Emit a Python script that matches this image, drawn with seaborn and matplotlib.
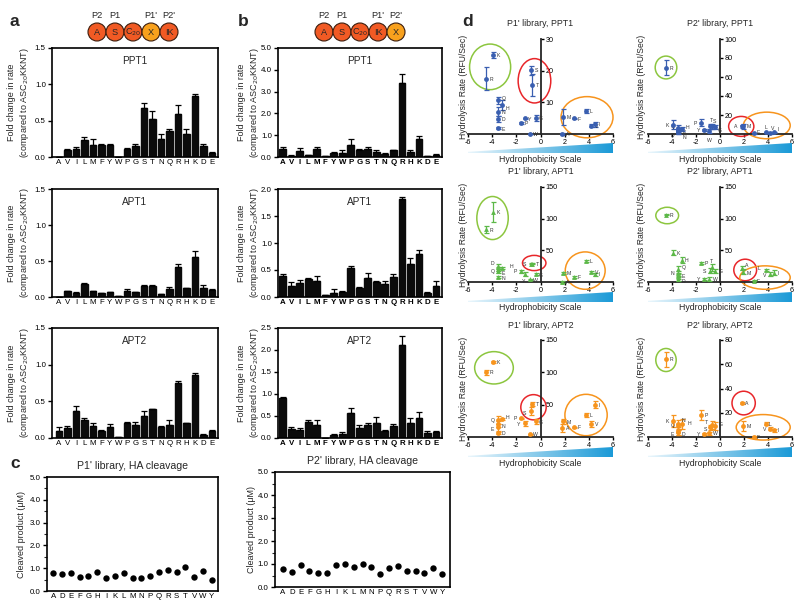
import numpy as np
import pandas as pd
import matplotlib
matplotlib.use("Agg")
import matplotlib.pyplot as plt
import seaborn as sns
from matplotlib.patches import Ellipse, Circle, Polygon
from matplotlib.colors import LinearSegmentedColormap

sns.set_theme(style="ticks")
plt.rcParams['font.family'] = ['Liberation Sans', 'DejaVu Sans']

# ---------------- data ----------------
residues_ab = ['A', 'V', 'I', 'L', 'M', 'F', 'Y', 'W', 'P', 'G', 'S', 'T', 'N', 'Q', 'R', 'H', 'K', 'D', 'E']

a_ppt1 = [0.0, 0.09, 0.11, 0.24, 0.17, 0.16, 0.16, 0.005, 0.11, 0.15, 0.67, 0.52, 0.25, 0.36, 0.59, 0.32, 0.84, 0.15, 0.06]
a_ppt1_err = [0.0, 0.02, 0.03, 0.03, 0.08, 0.02, 0.02, 0.0, 0.01, 0.03, 0.07, 0.11, 0.06, 0.02, 0.12, 0.07, 0.03, 0.03, 0.01]
a_apt1 = [0.0, 0.08, 0.06, 0.18, 0.08, 0.05, 0.07, 0.01, 0.09, 0.07, 0.15, 0.15, 0.04, 0.11, 0.42, 0.12, 0.56, 0.13, 0.10]
a_apt1_err = [0.0, 0.01, 0.01, 0.01, 0.01, 0.0, 0.0, 0.0, 0.02, 0.0, 0.01, 0.01, 0.0, 0.03, 0.04, 0.01, 0.08, 0.03, 0.01]
a_apt2 = [0.09, 0.13, 0.37, 0.24, 0.17, 0.10, 0.15, 0.01, 0.21, 0.18, 0.30, 0.39, 0.15, 0.18, 0.75, 0.20, 0.86, 0.04, 0.10]
a_apt2_err = [0.06, 0.04, 0.06, 0.03, 0.04, 0.01, 0.04, 0.0, 0.01, 0.04, 0.07, 0.01, 0.01, 0.07, 0.03, 0.01, 0.02, 0.01, 0.01]

b_ppt1 = [0.35, 0.05, 0.28, 0.08, 0.35, 0.05, 0.20, 0.17, 0.57, 0.32, 0.35, 0.25, 0.13, 0.30, 3.38, 0.22, 0.84, 0.05, 0.10]
b_ppt1_err = [0.12, 0.02, 0.15, 0.02, 0.10, 0.01, 0.03, 0.15, 0.25, 0.05, 0.10, 0.07, 0.05, 0.03, 0.42, 0.10, 0.13, 0.01, 0.02]
b_apt1 = [0.39, 0.20, 0.26, 0.34, 0.29, 0.03, 0.08, 0.09, 0.53, 0.17, 0.35, 0.27, 0.24, 0.37, 1.82, 0.62, 0.79, 0.07, 0.20]
b_apt1_err = [0.04, 0.08, 0.06, 0.01, 0.10, 0.01, 0.07, 0.03, 0.05, 0.02, 0.10, 0.03, 0.05, 0.06, 0.04, 0.10, 0.08, 0.02, 0.09]
b_apt2 = [0.92, 0.21, 0.18, 0.36, 0.29, 0.0, 0.06, 0.09, 0.57, 0.23, 0.30, 0.35, 0.15, 0.28, 2.12, 0.34, 0.45, 0.12, 0.14]
b_apt2_err = [0.01, 0.03, 0.05, 0.05, 0.12, 0.0, 0.03, 0.05, 0.12, 0.07, 0.05, 0.13, 0.03, 0.03, 0.20, 0.12, 0.15, 0.05, 0.02]

residues_c = ['A', 'D', 'E', 'F', 'G', 'H', 'I', 'K', 'L', 'M', 'N', 'P', 'Q', 'R', 'S', 'T', 'V', 'W', 'Y']
c_p1 = [0.79, 0.76, 0.80, 0.63, 0.65, 0.85, 0.58, 0.67, 0.80, 0.55, 0.57, 0.67, 0.83, 0.90, 0.85, 1.06, 0.60, 0.88, 0.50]
c_p2 = [0.80, 0.65, 0.95, 0.68, 0.63, 0.63, 0.95, 1.02, 0.87, 0.98, 0.88, 0.55, 0.82, 0.93, 0.69, 0.68, 0.62, 0.83, 0.55]

hydro_res = ['I', 'V', 'L', 'F', 'M', 'A', 'G', 'T', 'S', 'W', 'Y', 'P', 'H', 'E', 'Q', 'D', 'N', 'K', 'R']
hydro_scale = [4.5, 4.2, 3.8, 2.8, 1.9, 1.8, -0.4, -0.7, -0.8, -0.9, -1.3, -1.6, -3.2, -3.5, -3.5, -3.5, -3.5, -3.9, -4.5]

d_p1_ppt1 = [3.1, 2.6, 7.3, 4.9, 5.4, 0.0, 5.0, 15.5, 20.1, 0.0, 4.9, 3.5, 9.1, 1.9, 10.6, 4.7, 7.1, 25.0, 17.5]
d_p1_ppt1_err = [0.8, 0.5, 0.7, 0.3, 2.4, 0.2, 1.0, 3.4, 1.5, 0.0, 0.3, 0.3, 1.5, 0.3, 1.0, 1.0, 1.5, 1.0, 3.7]
d_p2_ppt1 = [2, 1, 2, 1, 8, 8, 7, 8, 8, 3, 4.5, 12, 5, 4, 6, 2, 2, 9.8, 70]
d_p2_ppt1_err = [0.5, 0.5, 0.5, 0.5, 3, 2, 2, 3, 3, 2, 1, 4, 2, 2, 3, 2, 2, 5, 8]
d_p1_apt1 = [12, 16, 33, 8, 14, 0, 13, 29, 29, 4, 13, 17, 22, 18, 20, 25, 8, 110, 83]
d_p1_apt1_err = [2, 2, 1, 1, 2, 1, 2, 1, 1, 1, 3, 2, 2, 3, 3, 4, 1, 16, 5]
d_p2_apt1 = [15, 13, 19, 2, 16, 22, 17, 23, 18, 5, 5, 30, 35, 9, 20, 5, 14, 46, 106]
d_p2_apt1_err = [4, 3, 2, 1, 4, 3, 3, 5, 4, 3, 2, 2, 5, 4, 5, 3, 4, 4, 1]
d_p1_apt2 = [50, 20, 34, 15, 24, 14, 24, 51, 40, 4, 21, 29, 28, 15, 26, 6, 20, 116, 100]
d_p1_apt2_err = [5, 4, 3, 1, 4, 6, 4, 3, 6, 1, 4, 1, 1, 5, 6, 1, 4, 1, 4]
d_p2_apt2 = [5.5, 7, 11, 0, 9, 28, 9, 10, 8, 3, 2.5, 18, 11, 4, 9, 4, 11, 13, 64]
d_p2_apt2_err = [1, 1, 1, 0.5, 4, 1, 3, 3, 2, 1, 1, 4, 4, 2, 2, 2, 3, 5, 6]

# ---------------- figure ----------------
W, H = 800, 606
fig = plt.figure(figsize=(8, 6.06), dpi=100)
fig.patch.set_facecolor('white')


def rect(l, t, r, b):
    return [l / W, 1 - b / H, (r - l) / W, (b - t) / H]


def fig_xy(x, y):
    return x / W, 1 - y / H


def style_box(ax):
    for s in ax.spines.values():
        s.set_visible(True)
        s.set_linewidth(1.2)
        s.set_color('black')
    ax.tick_params(axis='y', direction='out', length=3, width=1, labelsize=5.7, pad=1.5, colors='black')
    ax.tick_params(axis='x', length=0, labelsize=5.7, pad=1.5, colors='black')
    ax.set_xlabel('')
    ax.set_ylabel('')


def bar_panel(ax, vals, errs, title, ymax, ystep, bold, xlim):
    df = pd.DataFrame({'res': residues_ab, 'val': vals})
    sns.barplot(data=df, x='res', y='val', order=residues_ab, color='#0b0b0b',
                width=0.78, errorbar=None, ax=ax, saturation=1, edgecolor='#0b0b0b')
    x = np.arange(len(vals))
    ax.errorbar(x, vals, yerr=[np.zeros(len(errs)), errs], fmt='none', ecolor='black',
                elinewidth=0.9, capsize=2.0, capthick=0.9)
    ax.set_ylim(0, ymax)
    ax.set_xlim(*xlim)
    ticks = np.arange(0, ymax + 1e-9, ystep)
    ax.set_yticks(ticks)
    ax.set_yticklabels([f'{t:.1f}' for t in ticks])
    style_box(ax)
    if bold:
        for lb in ax.get_xticklabels():
            lb.set_fontweight('bold')
    ax.text(0.5, 0.93, title, transform=ax.transAxes, ha='center', va='top', fontsize=7.2)


rows_ab = [(48, 157), (189, 297), (328, 438)]
a_data = [(a_ppt1, a_ppt1_err, 'PPT1'), (a_apt1, a_apt1_err, 'APT1'), (a_apt2, a_apt2_err, 'APT2')]
b_data = [(b_ppt1, b_ppt1_err, 'PPT1', 5.0, 1.0), (b_apt1, b_apt1_err, 'APT1', 2.0, 0.5),
          (b_apt2, b_apt2_err, 'APT2', 2.5, 0.5)]

ylab_txt = 'Fold change in rate\n(compared to ASC$_{20}$KKNT)'
for (t, b), (v, e, ttl) in zip(rows_ab, a_data):
    ax = fig.add_axes(rect(52, t, 218, b))
    bar_panel(ax, v, e, ttl, 1.5, 0.5, False, (-0.82, 18.72))
    fx, fy = fig_xy(19, (t + b) / 2)
    fig.text(fx, fy, ylab_txt, rotation=90, ha='center', va='center', fontsize=6.5, linespacing=1.15)

for (t, b), (v, e, ttl, ym, st) in zip(rows_ab, b_data):
    ax = fig.add_axes(rect(278, t, 442, b))
    bar_panel(ax, v, e, ttl, ym, st, True, (-0.55, 18.72))
    fx, fy = fig_xy(249, (t + b) / 2)
    fig.text(fx, fy, ylab_txt, rotation=90, ha='center', va='center', fontsize=6.5, linespacing=1.15)

# ---------------- panel c ----------------
c_specs = [(c_p1, "P1' library, HA cleavage", (47, 477, 218, 591), (-0.7, 18.7), 22),
           (c_p2, "P2' library, HA cleavage", (275, 472, 450, 587), (-0.9, 18.9), 252)]
for vals, ttl, (l, t, r, b), xl, ylx in c_specs:
    ax = fig.add_axes(rect(l, t, r, b))
    df = pd.DataFrame({'res': residues_c, 'val': vals})
    sns.stripplot(data=df, x='res', y='val', order=residues_c, jitter=False, color='black',
                  size=4.6, ax=ax)
    ax.set_ylim(0, 5.0)
    ax.set_xlim(*xl)
    ax.set_yticks(np.arange(0, 5.01, 1.0))
    ax.set_yticklabels([f'{t:.1f}' for t in np.arange(0, 5.01, 1.0)])
    ax.set_yticks(np.arange(0.5, 5.0, 1.0), minor=True)
    style_box(ax)
    ax.tick_params(axis='y', which='minor', direction='out', length=2, width=0.8)
    ax.set_title(ttl, fontsize=7.6, pad=6)
    fx, fy = fig_xy(ylx, (t + b) / 2)
    fig.text(fx, fy, 'Cleaved product (\u03bcM)', rotation=90, ha='center', va='center', fontsize=6.5)

# ---------------- panel d ----------------
GREEN, RED, ORANGE = '#8cc63f', '#e8262a', '#f7941d'
grad_cmap = LinearSegmentedColormap.from_list('g', ['#eaf6fc', '#1b9ad7'])

L = (-5.5, -1.5)
label_offsets = [
    {'H': (2.5, -3.2), 'Q': (2.5, 0), 'E': (2.5, -2)},
    {'K': L, 'Q': (-5.5, 0.5), 'H': (3, 0.5), 'E': (3, -2.5), 'D': (-5.5, -3.5), 'N': (3, -5), 'P': L, 'Y': L,
     'T': (-1, 3), 'S': (2, 2.5), 'W': (-1.5, -7.5), 'G': (2, -3.5), 'A': L, 'M': (2.5, -1.5), 'L': (-1, 2),
     'V': (0.5, 2), 'I': (2.5, 0.5), 'F': (2.5, -0.5)},
    {'D': (-5.5, 0.5), 'Q': (-5.5, -3), 'E': (2.5, -3.2), 'H': (5.5, 0), 'N': (2.5, -2), 'S': L,
     'P': L, 'Y': (-2, -7), 'G': (2.5, -2)},
    {'N': L, 'Q': (2.5, 0), 'E': (2.5, -1.5), 'D': (2.5, -3), 'L': (-5.5, 0), 'V': (-5.5, -2), 'S': L,
     'T': (-1.5, 3), 'Y': L, 'A': (2.5, 0.5), 'M': (2.5, -2.5)},
    {'Q': (-5.5, -1), 'E': (-5.5, -2.5), 'N': (2.5, -2.5), 'H': (2.5, 0), 'P': L, 'Y': L, 'S': (-5.5, -2.5)},
    {'K': L, 'Q': (-5.5, -1), 'E': (-5.5, -3), 'D': (2.5, -3), 'N': (2.5, 1.5), 'H': (4, -1), 'T': (-5, 0.5),
     'S': (-5, -2.5), 'Y': L, 'V': (-5.5, -1.5), 'G': (2.5, 0)},
]

d_specs = [
    (d_p1_ppt1, d_p1_ppt1_err, "P1' library, PPT1", 468, 613, 134, 39, 30, [10, 20, 30], '#3a5fb0', 'o',
     [(-4.17, 21.2, 3.4, 14.4, GREEN), (-0.5, 16.8, 2.7, 14, RED), (3.85, 5.3, 4.3, 13, ORANGE)], 23, 143, 159),
    (d_p2_ppt1, d_p2_ppt1_err, "P2' library, PPT1", 648, 792, 134, 39, 100, [20, 40, 60, 80, 100], '#3a5fb0', 'o',
     [(-4.5, 70, 1.8, 24, GREEN), (1.77, 8, 2.1, 21, RED), (3.9, 9, 3.9, 28, ORANGE)], 23, 143, 159),
    (d_p1_apt1, d_p1_apt1_err, "P1' library, APT1", 468, 613, 282, 187, 150, [50, 100, 150], '#5cb848', '^',
     [(-3.97, 101, 2.6, 68, GREEN), (-0.52, 30, 1.94, 24, RED), (3.7, 18, 3.3, 59, ORANGE)], 171, 292, 307),
    (d_p2_apt1, d_p2_apt1_err, "P2' library, APT1", 648, 792, 282, 187, 150, [50, 100, 150], '#5cb848', '^',
     [(-4.4, 105, 1.9, 26, GREEN), (2.1, 19, 1.9, 34, RED), (3.75, 7, 4.2, 37, ORANGE)], 171, 292, 307),
    (d_p1_apt2, d_p1_apt2_err, "P1' library, APT2", 468, 613, 437, 340, 150, [50, 100, 150], '#f7941d', 'o',
     [(-3.85, 107, 3.2, 50, GREEN), (-0.58, 46, 2.1, 39, RED), (3.77, 34, 3.5, 64, ORANGE)], 325, 447, 464),
    (d_p2_apt2, d_p2_apt2_err, "P2' library, APT2", 648, 792, 437, 340, 80, [20, 40, 60, 80], '#f7941d', 'o',
     [(-4.5, 63.5, 1.7, 19, GREEN), (1.97, 28, 1.94, 19.5, RED), (3.6, 8, 4.5, 21, ORANGE)], 325, 447, 464),
]

for k, (vals, errs, ttl, l, r, y0, yt, ymax, yt_list, col, mk, ells, tty, gt, lby) in enumerate(d_specs):
    ax = fig.add_axes(rect(l, yt, r, y0))
    df = pd.DataFrame({'h': hydro_scale, 'rate': vals, 'res': hydro_res})
    ax.errorbar(hydro_scale, vals, yerr=errs, fmt='none', ecolor=col, elinewidth=0.9,
                capsize=1.8, capthick=0.9, clip_on=False, zorder=3)
    sns.scatterplot(data=df, x='h', y='rate', marker=mk, color=col, s=12, edgecolor=col,
                    linewidth=0, ax=ax, zorder=4, clip_on=False, legend=False)
    offs = label_offsets[k]
    for hx, v, lab in zip(hydro_scale, vals, hydro_res):
        ax.annotate(lab, (hx, v), xytext=offs.get(lab, (2.5, -1.5)), textcoords='offset points',
                    fontsize=3.7, color='#333333', annotation_clip=False)
    for (cx, cy, w, h, ec) in ells:
        ax.add_patch(Ellipse((cx, cy), w, h, fill=False, edgecolor=ec, lw=1.1, clip_on=False, zorder=2))
    ax.set_xlim(-6, 6)
    ax.set_ylim(0, ymax)
    ax.set_xlabel('')
    ax.set_ylabel('')
    ax.spines['top'].set_visible(False)
    ax.spines['left'].set_visible(False)
    ax.spines['right'].set_position(('data', 0))
    ax.spines['right'].set_linewidth(1.3)
    ax.spines['bottom'].set_linewidth(1.3)
    ax.yaxis.set_ticks_position('right')
    ax.set_yticks(yt_list)
    ax.set_yticklabels([str(t) for t in yt_list])
    ax.set_xticks(np.arange(-6, 7, 2))
    ax.set_xticklabels([str(t) for t in np.arange(-6, 7, 2)])
    ax.tick_params(axis='both', direction='out', length=2.5, width=1, labelsize=5.2, pad=1, colors='black')
    ax.patch.set_alpha(0)
    fx, fy = fig_xy((l + r) / 2, tty)
    fig.text(fx, fy, ttl, ha='center', va='center', fontsize=6.4)
    fx, fy = fig_xy(l - 6 if l > 600 else 463, (y0 + yt) / 2)
    fig.text(fx, fy, 'Hydrolysis Rate (RFU/Sec)', rotation=90, ha='center', va='center', fontsize=6.2)
    gax = fig.add_axes(rect(l, gt, r, gt + 10))
    gax.set_xlim(0, 1)
    gax.set_ylim(0, 1)
    im = gax.imshow(np.linspace(0, 1, 256).reshape(1, -1), cmap=grad_cmap, aspect='auto',
                    extent=(0, 1, 0, 1))
    poly = Polygon([(0, 0), (1, 0), (1, 1), (0, 0.12)], closed=True, transform=gax.transData)
    im.set_clip_path(poly)
    gax.axis('off')
    fx, fy = fig_xy((l + r) / 2, lby)
    fig.text(fx, fy, 'Hydrophobicity Scale', ha='center', va='center', fontsize=6.3)

# ---------------- overlay: headers and panel letters ----------------
ov = fig.add_axes([0, 0, 1, 1])
ov.set_xlim(0, W)
ov.set_ylim(H, 0)
ov.axis('off')
ov.patch.set_alpha(0)
RED_O, LIGHT_O = '#f15a24', '#f8a11d'
headers = [
    ([97, 115, 133, 151, 169], ['A', 'S', 'C$_{20}$', 'X', 'IK'], [RED_O, RED_O, RED_O, LIGHT_O, RED_O],
     ['P2', 'P1', '', "P1'", "P2'"]),
    ([324, 342, 360, 378, 396], ['A', 'S', 'C$_{20}$', 'IK', 'X'], [RED_O, RED_O, RED_O, RED_O, LIGHT_O],
     ['P2', 'P1', '', "P1'", "P2'"]),
]
for xs, labs, cols, tops in headers:
    for x, lab, c, tp in zip(xs, labs, cols, tops):
        ov.add_patch(Circle((x, 32), 9, facecolor=c, edgecolor='#3b1d0e', lw=0.8))
        ov.text(x, 32.5, lab, ha='center', va='center', fontsize=6.6)
        if tp:
            ov.text(x, 16, tp, ha='center', va='center', fontsize=6.6)

for lt, x, y in [('a', 10, 22), ('b', 238, 22), ('c', 10, 463), ('d', 462, 22)]:
    ov.text(x, y, lt, ha='left', va='center', fontsize=12.5, fontweight='bold')

fig.savefig('out.png', dpi=100, facecolor='white')
